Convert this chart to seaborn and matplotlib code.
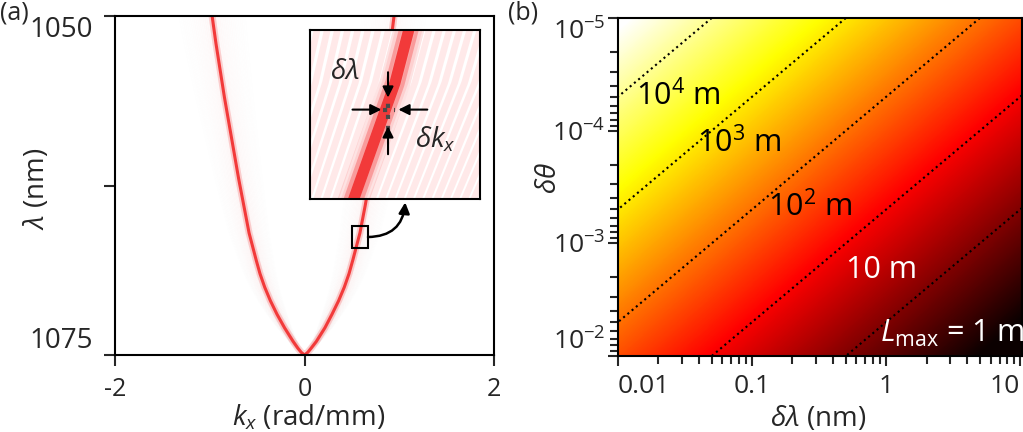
import numpy as np
import matplotlib
matplotlib.use('Agg')
from matplotlib import pyplot as plt
from matplotlib.patches import Rectangle
from matplotlib.ticker import LogLocator, NullFormatter
import seaborn as sns

# (a) spectral support
lam_nm = [1050, 1052, 1054, 1056, 1058, 1060, 1062, 1064, 1066, 1068, 1069,
          1070, 1071, 1072, 1073, 1073.5, 1074, 1074.5, 1074.8, 1075]
kx_right = [0.945, 0.91, 0.87, 0.83, 0.785, 0.74, 0.69, 0.64, 0.585, 0.51,
            0.47, 0.42, 0.36, 0.29, 0.215, 0.17, 0.125, 0.07, 0.035, 0.0]
kx_left = [-0.975, -0.935, -0.89, -0.845, -0.795, -0.745, -0.695, -0.64, -0.585,
           -0.51, -0.47, -0.42, -0.36, -0.29, -0.21, -0.165, -0.12, -0.07, -0.035, 0.0]
zoom_box = [0.50, 1065.5, 0.17, 1.6]  # kx0, lam0, width, height

# (b) L_max = C / (dlambda * dtheta)
c_lmax = 5e-3
lmax_levels = [1, 10, 100, 1e3, 1e4]
lmax_labels = ['$L_{\\mathrm{max}}$ = 1 m', '10 m', '10$^2$ m', '10$^3$ m', '10$^4$ m']
x_ticks = [0.01, 0.1, 1, 10]
x_ticklabels = ['0.01', '0.1', '1', '10']
y_ticks = [1e-5, 1e-4, 1e-3, 1e-2]
y_ticklabels = ['$10^{-5}$', '$10^{-4}$', '$10^{-3}$', '$10^{-2}$']

sns.set_style('ticks')
plt.rcParams['font.family'] = ['Open Sans', 'DejaVu Sans']
plt.rcParams['mathtext.fontset'] = 'custom'
plt.rcParams['mathtext.rm'] = 'Open Sans'
plt.rcParams['mathtext.it'] = 'Open Sans:italic'
plt.rcParams['mathtext.bf'] = 'Open Sans:bold'
plt.rcParams['axes.linewidth'] = 1.5
plt.rcParams['axes.edgecolor'] = 'black'

red = '#f23a3a'
# left branch top -> vertex, then right branch vertex -> top
lam_path = np.array(lam_nm + lam_nm[::-1][1:])
kx_path = np.array(kx_left + kx_right[::-1][1:])

fig = plt.figure(figsize=(10.23, 4.32), dpi=100)
axa = fig.add_axes([115 / 1023, 1 - 355 / 432, 379 / 1023, 339 / 432])
axb = fig.add_axes([618 / 1023, 1 - 356 / 432, 404 / 1023, 338 / 432])

# ---- panel (a)
for n in range(-18, 19):
    if n == 0:
        continue
    s = 1 + 0.02 * n
    axa.plot(kx_path * s, lam_path, color=red, lw=1.0,
             alpha=0.06 * np.exp(-abs(n) / 7))
axa.plot(kx_path, lam_path, color=red, lw=5, alpha=0.22,
         solid_joinstyle='round')
sns.lineplot(x=kx_path, y=lam_path, sort=False, estimator=None, color=red,
             lw=2.2, ax=axa)
axa.set_xlim(-2, 2)
axa.set_ylim(1075, 1050)
axa.set_xticks([-2, 0, 2])
axa.set_xticklabels(['-2', '0', '2'])
axa.set_yticks([1050, 1062.5, 1075])
axa.set_yticklabels(['1050', '', '1075'])
axa.tick_params(direction='out', length=8, width=1.5, labelsize=18, pad=8)
axa.tick_params(axis='y', labelsize=20, pad=8)
ylabs = axa.get_yticklabels()
ylabs[0].set_va('top')
ylabs[2].set_va('bottom')
axa.set_xlabel('$k_x$ (rad/mm)', fontsize=20)
axa.set_ylabel('$\\lambda$ (nm)', fontsize=20)
axa.xaxis.set_label_coords(0.512, -0.142)
axa.yaxis.set_label_coords(-0.17, 0.49)
for sp in axa.spines.values():
    sp.set_linewidth(1.5)

axa.add_patch(Rectangle((zoom_box[0], zoom_box[1]), zoom_box[2], zoom_box[3],
                        fill=False, ec='black', lw=1.5, zorder=5))

# inset
axin = fig.add_axes([310 / 1023, 1 - 199 / 432, 170 / 1023, 169 / 432])
for n in range(-30, 31):
    s = 1 + 0.017 * n
    axin.plot(kx_path * s, lam_path, color='#ff5a5a', lw=4.8, alpha=0.13,
              solid_capstyle='butt')
axin.plot(kx_path, lam_path, color=red, lw=22, alpha=0.14)
axin.plot(kx_path, lam_path, color=red, lw=14, alpha=0.35)
sns.lineplot(x=kx_path, y=lam_path, sort=False, estimator=None, color=red,
             lw=8, ax=axin)
axin.set_xlim(zoom_box[0], zoom_box[0] + zoom_box[2])
axin.set_ylim(zoom_box[1] + zoom_box[3], zoom_box[1])
axin.set_xticks([])
axin.set_yticks([])
axin.set_xlabel('')
axin.set_ylabel('')
for sp in axin.spines.values():
    sp.set_linewidth(1.5)
tr = axin.transAxes
axin.plot([0.459, 0.459], [0.41, 0.60], transform=tr, color='#4a4a4a',
          lw=3, ls=':')
axin.plot([0.43, 0.50], [0.529, 0.529], transform=tr, color='#4a4a4a',
          lw=3, ls=':')
arrow = dict(arrowstyle='-|>', color='black', lw=1.5, mutation_scale=16,
             shrinkA=0, shrinkB=0)
axin.annotate('', xy=(0.459, 0.60), xytext=(0.459, 0.75), xycoords=tr,
              textcoords=tr, arrowprops=arrow)
axin.annotate('', xy=(0.459, 0.43), xytext=(0.459, 0.265), xycoords=tr,
              textcoords=tr, arrowprops=arrow)
axin.annotate('', xy=(0.42, 0.529), xytext=(0.25, 0.529), xycoords=tr,
              textcoords=tr, arrowprops=arrow)
axin.annotate('', xy=(0.52, 0.529), xytext=(0.69, 0.529), xycoords=tr,
              textcoords=tr, arrowprops=arrow)
axin.text(0.206, 0.75, '$\\delta\\lambda$', transform=tr, fontsize=20,
          ha='center', va='center')
axin.text(0.74, 0.35, '$\\delta k_x$', transform=tr, fontsize=20,
          ha='center', va='center')

axa.annotate('', xy=(0.56, -0.02), xycoords=axin.transAxes,
             xytext=(zoom_box[0] + zoom_box[2], zoom_box[1] + zoom_box[3] / 2),
             textcoords='data',
             arrowprops=dict(arrowstyle='-|>', color='black', lw=1.8,
                             mutation_scale=16, shrinkA=0, shrinkB=0,
                             connectionstyle='arc3,rad=0.45'))

# ---- panel (b)
lam_grid = np.logspace(-2, np.log10(10.3), 400)
th_grid = np.logspace(-5, -2, 400)
LL, TT = np.meshgrid(lam_grid, th_grid)
log_lmax = np.log10(c_lmax / (LL * TT))
axb.pcolormesh(LL, TT, log_lmax, cmap='hot', vmin=-1, vmax=4.6,
               shading='gouraud', rasterized=True)
axb.contour(LL, TT, log_lmax, levels=np.log10(lmax_levels), colors='black',
            linewidths=1.5, linestyles='dotted')
axb.set_xscale('log')
axb.set_yscale('log')
axb.set_xlim(0.01, 10.3)
axb.set_ylim(1e-2, 1e-5)
axb.set_xticks(x_ticks)
axb.set_xticklabels(x_ticklabels)
axb.set_yticks(y_ticks)
axb.set_yticklabels(y_ticklabels)
axb.xaxis.set_minor_locator(LogLocator(base=10, subs=np.arange(2, 10), numticks=20))
axb.yaxis.set_minor_locator(LogLocator(base=10, subs=np.arange(2, 10), numticks=20))
axb.xaxis.set_minor_formatter(NullFormatter())
axb.yaxis.set_minor_formatter(NullFormatter())
axb.tick_params(which='both', direction='out', width=1.5, labelsize=19)
axb.tick_params(which='major', length=7)
axb.tick_params(which='minor', length=6)
axb.tick_params(axis='x', pad=6)
axb.tick_params(axis='y', pad=2)
xl = axb.get_xticklabels()
xl[0].set_ha('left')
xl[-1].set_ha('right')
yl = axb.get_yticklabels()
yl[0].set_va('top')
yl[-1].set_va('bottom')
axb.set_xlabel('$\\delta\\lambda$ (nm)', fontsize=20)
axb.set_ylabel('$\\delta\\theta$', fontsize=20)
axb.xaxis.set_label_coords(0.495, -0.142)
axb.yaxis.set_label_coords(-0.135, 0.527)
for sp in axb.spines.values():
    sp.set_linewidth(1.5)

label_pos = [(0.827, 0.068), (0.653, 0.254), (0.475, 0.44), (0.30, 0.63), (0.149, 0.77)]
label_col = ['white', 'white', 'black', 'black', 'black']
for txt, (px, py), col in zip(lmax_labels, label_pos, label_col):
    axb.text(px, py, txt, transform=axb.transAxes, fontsize=22, color=col,
             ha='center', va='center')

fig.text(0.0, 1.0, '(a)', fontsize=18, ha='left', va='top')
fig.text(0.497, 1.0, '(b)', fontsize=18, ha='left', va='top')

fig.savefig('out.png', dpi=100)
